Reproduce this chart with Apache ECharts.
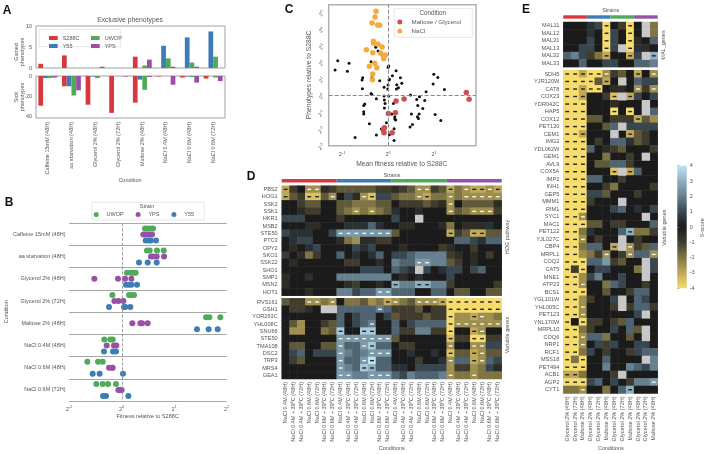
<!DOCTYPE html>
<html><head><meta charset="utf-8">
<style>html,body{margin:0;padding:0;background:#fff}#c{width:709px;height:454px}</style>
<script src="https://cdn.jsdelivr.net/npm/echarts@6/dist/echarts.min.js"></script>
</head><body><div id="c"></div>
<script>
// ---------- Panel A ----------
const phenoConditions=['Caffeine 15mM (48H)','aa starvation (48H)','Glycerol 2% (48H)','Glycerol 2% (72H)','Maltose 2% (48H)','NaCl 0.4M (48H)','NaCl 0.6M (48H)','NaCl 0.6M (72H)'];
const gainedS288C=[1,3,0,0,2.7,0,0,0];
const gainedY55=[0,0,0,0,0,5.3,7.3,8.7];
const gainedUWOP=[0,0,0,0,0.6,2.3,1.3,2.7];
const gainedYPS=[0,0,0.3,0,2,0.3,0.3,0];
const sickS288C=[29,10,28,36,26,0.5,1.5,2.5];
const sickY55=[2,10,0.5,0,3.5,0,0.5,0];
const sickUWOP=[2,19,2,0,13.5,0,1,1.5];
const sickYPS=[1.5,14,0,0.5,1,8.5,6.5,5];
// ---------- Panel B (log2 fitness, one list per condition) ----------
const fitnessUWOP=[[.446,.490,.541,.598],[.484,.535,.674,.801],[.104,.186,.224,.268],[-.175,.142,.180,.237],[1.607,1.670,1.879],[-.328,-.214,-.169],[-.651,-.448,-.359],[-.480,-.359,-.258,-.106]];
const fitnessYPS=[[.414,.459,.522,.579],[.560,.605,.668,.808],[-.518,-.068,.066,.186],[-.137,-.061,.034],[.205,.357,.389,.497],[-.283,-.144,-.099],[-.239,-.182,-.169],[-.061,-.030,.002]];
const fitnessY55=[[.459,.522,.554,.655],[.332,.497,.668],[.085,.142,.186,.294],[-.239,.046,.072,.167],[1.435,1.657,1.829],[-.334,-.163,-.106],[-.550,-.417,.027],[-.353,-.296,.129]];
// ---------- Panel C (log2 values) ----------
const otherMeanFitness=[-1.094,-.848,-1.152,-.884,-.268,-.217,-.370,.014,0,.174,-.348,-.551,-.565,-.181,.029,.094,.022,.268,.297,.188,.225,.181,-.087,0,-.007,-.558,-.370,-.355,-.254,-.087,-.080,.014,-.065,.116,-.507,-.529,-.080,-.529,-.529,.080,.145,.145,.167,-.406,-.036,-.145,-.058,.130,.029,-.254,-.717,.130,.486,.681,.623,.797,.645,.754,.507,.674,.638,.659,.529,.478,1.022,.993,1.080,.978,.826,1.225,1.145];
const otherPhenotypes=[2.068,1.908,1.506,1.426,2.871,2.651,2.008,1.747,1.667,1.466,1.064,1.044,.904,.863,.944,1.165,.904,1.044,.703,.622,.442,.361,.462,.602,.361,.382,.100,.040,-.221,-.060,-.301,-.060,-.502,-.502,-.542,-.622,-.783,-1.004,-1.145,-1.145,-1.305,-1.446,-1.506,-1.727,-1.667,-2.048,-1.968,-2.028,-2.390,-2.410,-2.550,-2.731,0,-.100,-.261,-.321,-.622,-.803,-1.145,-1.145,-1.305,-1.406,-1.767,-1.928,-1.165,1.245,1.064,.663,.201,.341,-1.526];
const naclMeanFitness=[-.261,-.283,-.348,-.225,-.181,-.319,-.312,-.217,-.130,-.471,-.333,-.159,-.058,-.101,-.094,-.290,-.406,-.246,-.333,-.341];
const naclPhenotypes=[5.040,4.699,4.337,4.217,4.197,3.233,3.112,3.052,2.892,2.731,2.550,2.510,2.410,2.309,2.189,1.908,1.727,1.647,1.265,.924];
const maltoseMeanFitness=[.348,.174,.159,.007,-.080,-.101,-.087,.087,1.70,1.76];
const maltosePhenotypes=[-.241,-.361,-1.064,-1.104,-1.968,-2.108,-2.269,-2.269,.15,-.25];
// ---------- Heatmaps: one letter per cell, "!" marks a significant cell, x a masked cell ----------
const scoreCode={A:-4,B:-3.5,C:-3,D:-2.5,E:-2,F:-1.5,G:-1,H:-.5,'.':0,i:.5,j:1,k:1.5,l:2,m:2.5,n:3,o:3.5,p:4,x:null};
const hogGenes=['PBS2','HOG1','SSK2','SSK1','HKR1','MSB2','STE50','PTC3','OPY2','SKO1','SSK22','SHO1','SMP1','MSN2','HOT1'];
const hogScores=[
"C!G.D!D!HG FFFFFGG HGFD!D!GF C!ED!C!C!D!C!",
"C!FGB!B!FD! .jHD!B!jj FEED!C!EE D!ED!D!D!D!D!",
"..GFF.. FFEEEFF .GGGFGH D!.FFFFH",
"..HGG.. FED!ED!EF i..H... D!FED!D!D!G",
"jjj.... G...... j..x... .......",
"...HH.. .iiiki. .HH...H E.HHHi.",
"jiii..j m!m!m!m!m!m!m! F...... C!GFC!C!FF",
".ijj... HEDHHGG ....... .kkjikk",
".H.ij.. ..jij.. .H....G H..G...",
"G.HEG.. k.i.ik. jjkllll GH.H.G.",
".H..... .GG..H. lkkm!m!ll FG.H...",
"....... ...jjj. kjixj.i jj.jk..",
"H..i... lllllll .H.i... j......",
"H...... .HG..H. n!lln!n!ll G.....G",
"...H... lljkkm!m! kkk..kk .FF..FF"];
const variableGenesD=['RVS161','GSH1','YOR263C','YHL008C','SNU66','STE50','TMA108','DSC2','TRP3','MRS4','GEA1'];
const variableScoresD=[
"FGGD!D!ED! .EEFDEC! D!EFD!D!D!C! A!A!A!A!A!A!A!",
".GGH.xx kkkkkl!k GGGF.GG A!A!A!A!A!A!A!",
"....... k.jkk.j FGGGFGG A!DDC!D!DE",
".FD..GF k.jkl!.. k.jkkkk A!D!D!D!D!D!D!",
".DD..EF o!..o!o!.. kGGllGG A!..C!D!..",
"....... m!m!m!m!m!m!m! F...... B!GGA!A!GG",
".FF..FF m!kkm!o!kk .GG.... D!..D!D!jj",
".jk.jjj m!lklm!m!m! ..i..i. B!FFC!D!FF",
".GF.... m!kkm!p!kk ...G..i D!kkC!D!kj",
"....... m!lko!n!kk ii.jjjj DGGDEjH",
"....... m!m!llm!m!m! kjlkkkl D!EED!EEE"];
const naclConditions=['NaCl 0.4M (48H)','NaCl 0.4M + 39ºC (48H)','NaCl 0.4M + 39ºC (72H)','NaCl 0.6M (48H)','NaCl 0.6M (72H)','NaCl 0.6M + 39ºC (48H)','NaCl 0.6M + 39ºC (72H)'];
const malGenes=['MAL11','MAL12','MAL31','MAL13','MAL32','MAL33'];
const malScores=[
"... ijA! .GA! .xE",
"... i.A! j.A! .xE",
"... j.A! j.A! H.k",
"..j j.A! jxA! iH.",
"klj GEC! ..C! jxn!",
"..k ..j j.. kkl"];
const variableGenesE=['SDH5','YJR120W','CAT8','COX23','YDR042C','HAP5','COX12','PET130','CEM1','IMG2','YDL062W','GEM1','AVL9','COX5A','IMP2','INH1','GEP5','MMM1','RIM1','SYC1','MAC1','PET122','YJL027C','CBP4','MRPL1','COQ2','CAT5','MNE1','ATP23','BCS1','YGL101W','YHL005C','PET123','YNL170W','MRPL10','COQ6','NRP1','RCF1','MSS18','PET494','ACB1','AGP2','CYT1'];
const variableScoresE=[
"A!A!C! A!A!D! GF. C!.D!","A!A!A! A!FC! .x. kjj","A!A!C! A!A!. HH. D!GD!","A!A!C! ..G B!xC! j.j","A!A!A! ... H.. .x.",
"A!A!A! ... A!.A! .xk","A!A!A! FF. GGG C!FD","A!A!A! ..F kxj jjj","A!A!C! ... x.C! FG.","A!A!A! .G. kki FG.",
"A!A!A! k.H GF. ..G","A!A!A! ..E ..G .x.","A!A!A! .FF kkG ...","A!A!A! ... B!xC! k..","A!A!A! kk. .G. ...",
"A!A!A! ..G E.. ..G","A!A!A! jjF ... G..","A!A!A! G.. .x. ...","A!A!A! ... jk. i.j","A!A!D! ... ... .x.",
"A!A!A! FF. GG. ..k","A!A!E i.. .kn! EEG","A!A!D! .G. .x. G..","A!A!E kk. C!xD! GFk","A!A!D EGD! .GD! kkD!",
"A!A!A! kkm GF. .xj","A!GA! .jj ... Exj","A!A!D jl. .j. .x.","A!A!D! ..E kj. .G.","A!A!A! ..F ..G kk.",
"A!A!D G.. jx. kj.","A!A!D! ... GxG kkG","A!A!D! ... ... jx.","A!.A! GG. GFk ...","A!A!E G.. j.k Fx.",
"A!A!D! kkE ..F .x.","A!A!D! .jG j.. jj.","A!A!E j.G ..G jkk","A!EA! ..k ... .xl","A!A!A! ..l ..l kjl",
"C!C!E ... Gx. ...","A!A!A! jk. j.G llm!","EED! ..E .kn! ..."];
const glyConditions=['Glycerol 2% (48H)','Glycerol 2% (72H)','Maltose 2% (48H)'];
const scoreTicks=[-4,4];
const strainNames=['S288C','Y55','UWOP','YPS'];

// ---------- styling ----------
const FONT='"Liberation Sans"', TXT='#555';
const RED='#d7383c',BLUE='#3d7db5',GREEN='#4fab55',PURPLE='#9a4fa6',ORANGE='#f5a93f',MALT='#cc5050';
const strainColor=[RED,BLUE,GREEN,PURPLE];
const ramp=['#f6dc6c','#bfa95a','#7f7544','#3f3c2e','#1b1b1b','#384650','#66808f','#8fb0c2','#bfe3f3'];
const grids=[],xAxes=[],yAxes=[],series=[],gfx=[];
function grid(l,t,w,h,extra){grids.push(Object.assign({left:l,top:t,width:w,height:h,containLabel:false},extra||{}));return grids.length-1;}
const lab=(o)=>Object.assign({fontFamily:FONT,fontSize:5.5,color:TXT},o||{});
const noAxis={axisLine:{show:false},axisTick:{show:false},splitLine:{show:false}};
function text(t,x,y,o){o=o||{};gfx.push({type:'text',x,y,rotation:o.rot?Math.PI/2:0,silent:true,style:{text:t,fontFamily:FONT,fontSize:o.size||6,fontWeight:o.weight||'normal',fill:o.fill||TXT,align:o.align||'center',verticalAlign:'middle'}});}
function box(x,y,w,h){gfx.push({type:'rect',silent:true,shape:{x,y,width:w,height:h},style:{fill:'none',stroke:'#ddd',lineWidth:.7}});}
const pow=v=>'{b|2}{s|'+v+'}';
const powRich={b:{fontSize:5.5,fontFamily:FONT,color:TXT},s:{fontSize:3.8,fontFamily:FONT,color:TXT,padding:[0,0,4,0]}};

// ---------- Panel A ----------
function barGrid(top,h,yOpt,vals,showX){
  const g=grid(36,top,189,h,{show:true,borderColor:'#a0a0a0',borderWidth:1,backgroundColor:'transparent'});
  xAxes.push({gridIndex:g,type:'category',data:phenoConditions,...noAxis,axisLabel:showX?lab({rotate:90,interval:0,margin:4}):{show:false}});
  yAxes.push(Object.assign({gridIndex:g,type:'value',...noAxis,axisLabel:lab({margin:4})},yOpt));
  const xi=xAxes.length-1,yi=yAxes.length-1;
  strainNames.forEach((n,i)=>series.push({type:'bar',name:n,xAxisIndex:xi,yAxisIndex:yi,data:vals[i],barGap:0,barCategoryGap:'20%',itemStyle:{color:strainColor[i]}}));
}
barGrid(26,42,{min:0,max:10,interval:5},[gainedS288C,gainedY55,gainedUWOP,gainedYPS],false);
barGrid(76,42,{min:0,max:41,inverse:true,axisLabel:lab({margin:4,customValues:[0,20,40]})},[sickS288C,sickY55,sickUWOP,sickYPS],true);
text('Exclusive phenotypes',130,20.5,{size:6.8});
text('Gained\nphenotypes',19,52,{rot:1,size:5.5});
text('Sick\nphenotypes',19,97,{rot:1,size:5.5});
text('Condition',130,180.7,{size:5.5});
box(39.3,29.3,81.4,17.4);

// ---------- Panel B ----------
(function(){
  const g=grid(69,223.3,157.7,177.7);
  xAxes.push({gridIndex:g,type:'value',min:-1,max:2,interval:1,...noAxis,axisLabel:lab({margin:4,formatter:pow,rich:powRich})});
  const xi=xAxes.length-1;
  yAxes.push({gridIndex:g,type:'category',inverse:true,data:phenoConditions,axisLine:{show:false},axisTick:{show:false},
    splitLine:{show:true,interval:0,lineStyle:{color:'#a8a8a8',width:1}},axisLabel:lab({interval:0,margin:3.5})});
  yAxes.push({gridIndex:g,type:'value',min:0,max:8,inverse:true,show:false});
  const yi=yAxes.length-1;
  [['UWOP',fitnessUWOP,-.27,GREEN],['YPS',fitnessYPS,0,PURPLE],['Y55',fitnessY55,.27,BLUE]].forEach(([n,arr,off,col],si)=>{
    const d=[];arr.forEach((r,i)=>r.forEach(v=>d.push([v,i+.5+off])));
    series.push({type:'scatter',name:n,xAxisIndex:xi,yAxisIndex:yi,data:d,symbolSize:6,itemStyle:{color:col,opacity:1},
      markLine:si?undefined:{silent:true,symbol:'none',label:{show:false},lineStyle:{color:'#888',type:'dashed',width:.8},data:[{xAxis:.02}]}});
  });
  text('Fitness relative to S288C',147.7,416.3,{size:5.6});
  text('Condition',6,311.7,{rot:1,size:5.5});
  text('Strain',147,206.7,{size:5.5});
  box(92,202.3,112.3,17.7);
})();

// ---------- Panel C ----------
(function(){
  const g=grid(328.7,4.7,147.3,141,{show:true,borderColor:'#b0b0b0',borderWidth:1.5,backgroundColor:'transparent'});
  xAxes.push({gridIndex:g,type:'value',min:-1.29,max:1.91,...noAxis,axisLabel:lab({margin:5,customValues:[-1,0,1],formatter:pow,rich:powRich})});
  yAxes.push({gridIndex:g,type:'value',min:-3.05,max:5.44,...noAxis,axisLabel:lab({margin:5,rotate:45,customValues:[-3,-2,-1,0,1,2,3,4,5],formatter:pow,rich:powRich})});
  const xi=xAxes.length-1,yi=yAxes.length-1;
  const zip=(a,b)=>a.map((v,i)=>[v,b[i]]);
  series.push({type:'scatter',name:'Other',xAxisIndex:xi,yAxisIndex:yi,data:zip(otherMeanFitness,otherPhenotypes),symbolSize:3,itemStyle:{color:'#111',opacity:1},
    markLine:{silent:true,symbol:'none',label:{show:false},lineStyle:{color:'#888',type:'dashed',width:1},data:[{xAxis:0},{yAxis:0}]}});
  series.push({type:'scatter',name:'Maltose / Glycerol',xAxisIndex:xi,yAxisIndex:yi,data:zip(maltoseMeanFitness,maltosePhenotypes),symbolSize:5.5,itemStyle:{color:MALT,opacity:1}});
  series.push({type:'scatter',name:'NaCl',xAxisIndex:xi,yAxisIndex:yi,data:zip(naclMeanFitness,naclPhenotypes),symbolSize:5.5,itemStyle:{color:ORANGE,opacity:1}});
  text('Mean fitness relative to S288C',401.7,164.3,{size:6.7});
  text('Phenotypes relative to S288C',308.7,75,{rot:1,size:6.7});
  text('Condition',432.7,13.3,{size:6.3});
  box(394.3,8.3,78,29);
})();

// ---------- heatmaps ----------
const heatIdx=[];
function decode(s){const out=[];s=s.replace(/ /g,'');for(let i=0;i<s.length;i++){const v=scoreCode[s[i]];let m=false;if(s[i+1]==='!'){m=true;i++;}out.push([v,m]);}return out;}
function heat(l,t,w,h,genes,rows,conds,showX){
  const g=grid(l,t,w,h);
  xAxes.push({gridIndex:g,type:'category',data:conds,...noAxis,axisLabel:showX?lab({rotate:90,interval:0,margin:3}):{show:false}});
  yAxes.push({gridIndex:g,type:'category',inverse:true,data:genes,...noAxis,axisLabel:lab({interval:0,margin:4,fontSize:5.6})});
  const xi=xAxes.length-1,yi=yAxes.length-1,cells=[],marks=[],masked=[];
  rows.forEach((r,y)=>decode(r).forEach(([v,m],x)=>{
    if(v===null){masked.push([x,y,0]);return;}
    cells.push([x,y,v]);if(m)marks.push([x,y,v]);}));
  heatIdx.push(series.length);
  series.push({type:'heatmap',xAxisIndex:xi,yAxisIndex:yi,data:cells,emphasis:{disabled:true},progressive:0});
  series.push({type:'heatmap',xAxisIndex:xi,yAxisIndex:yi,data:masked,emphasis:{disabled:true},progressive:0,itemStyle:{color:'#c8c8c8'}});
  series.push({type:'scatter',xAxisIndex:xi,yAxisIndex:yi,data:marks,symbol:'rect',symbolSize:[3.8,1.4],z:5,silent:true,
    itemStyle:{opacity:1,color:p=>Math.abs(p.value[2])>=2.75?'#222':'#f4f4f4'}});
}
function strip(l,t,w,h){
  const g=grid(l,t,w,h);
  xAxes.push({gridIndex:g,type:'category',data:strainNames,show:false});
  yAxes.push({gridIndex:g,type:'value',min:0,max:1,show:false});
  series.push({type:'bar',name:'strip',xAxisIndex:xAxes.length-1,yAxisIndex:yAxes.length-1,barWidth:'100%',silent:true,
    data:strainColor.map(c=>({value:1,itemStyle:{color:c}}))});
}
const condD=[].concat(naclConditions,naclConditions,naclConditions,naclConditions);
const condE=[].concat(glyConditions,glyConditions,glyConditions,glyConditions);
strip(281.7,179,220,3.5);
heat(281.7,185.7,220,110,hogGenes,hogScores,condD,false);
heat(281.7,298.3,220,80.7,variableGenesD,variableScoresD,condD,true);
strip(563.3,15.3,94.4,3.4);
heat(563.3,22,94.4,45.1,malGenes,malScores,condE,false);
heat(563.3,70.2,94.4,323.3,variableGenesE,variableScoresE,condE,true);
text('Strains',392,175,{size:5.5});
text('Conditions',391.7,448,{size:5.5});
text('HOG pathway',507,237,{rot:1,size:5.5});
text('Variable genes',507,335,{rot:1,size:5.5});
text('Strains',610.7,10.7,{size:5.5});
text('Conditions',610.7,448,{size:5.5});
text('MAL_genes',663,45,{rot:1,size:5.5});
text('Variable genes',664,227.7,{rot:1,size:5.5});
text('S-score',702,227.7,{rot:1,size:5.5});

// ---------- colour bar ----------
(function(){
  const stops=ramp.slice().reverse().map((c,i)=>({offset:i/8,color:c}));
  const g=grid(677.3,165.7,9.4,122.6,{show:true,borderWidth:0,backgroundColor:{type:'linear',x:0,y:0,x2:0,y2:1,colorStops:stops}});
  xAxes.push({gridIndex:g,type:'value',show:false});
  yAxes.push({gridIndex:g,type:'value',position:'right',min:scoreTicks[0],max:scoreTicks[1],interval:1,axisLine:{show:false},splitLine:{show:false},
    axisTick:{show:true,length:2,lineStyle:{color:'#888',width:.6}},axisLabel:lab({margin:3})});
})();

// panel letters
[['A',7,11],['B',9,203],['C',289,10],['D',251,177],['E',526,10]].forEach(([t,x,y])=>text(t,x,y,{size:12,weight:'bold',fill:'#111'}));

const chart=echarts.init(document.getElementById('c'),null,{renderer:'canvas'});
const legText={fontFamily:FONT,fontSize:5.5,color:TXT};
chart.setOption({
  animation:false,backgroundColor:'#fff',
  grid:grids,xAxis:xAxes,yAxis:yAxes,series,graphic:gfx,
  visualMap:{show:false,type:'continuous',seriesIndex:heatIdx,min:-4,max:4,calculable:false,inRange:{color:ramp}},
  legend:[
    {left:44,top:30,orient:'vertical',data:['S288C','Y55'],itemWidth:8.7,itemHeight:4,itemGap:2,icon:'rect',textStyle:legText,selectedMode:false},
    {left:86,top:30,orient:'vertical',data:['UWOP','YPS'],itemWidth:8.7,itemHeight:4,itemGap:2,icon:'rect',textStyle:legText,selectedMode:false},
    {left:93.7,top:211.5,orient:'horizontal',data:['UWOP','YPS','Y55'],itemWidth:10.6,itemHeight:5,itemGap:12,icon:'circle',textStyle:legText,selectedMode:false,padding:0},
    {left:397.3,top:19,orient:'vertical',data:['Maltose / Glycerol','NaCl'],itemWidth:13.4,itemHeight:5,itemGap:3,icon:'circle',textStyle:Object.assign({},legText,{fontSize:6.2}),selectedMode:false,padding:0}
  ]
});
</script></body></html>
